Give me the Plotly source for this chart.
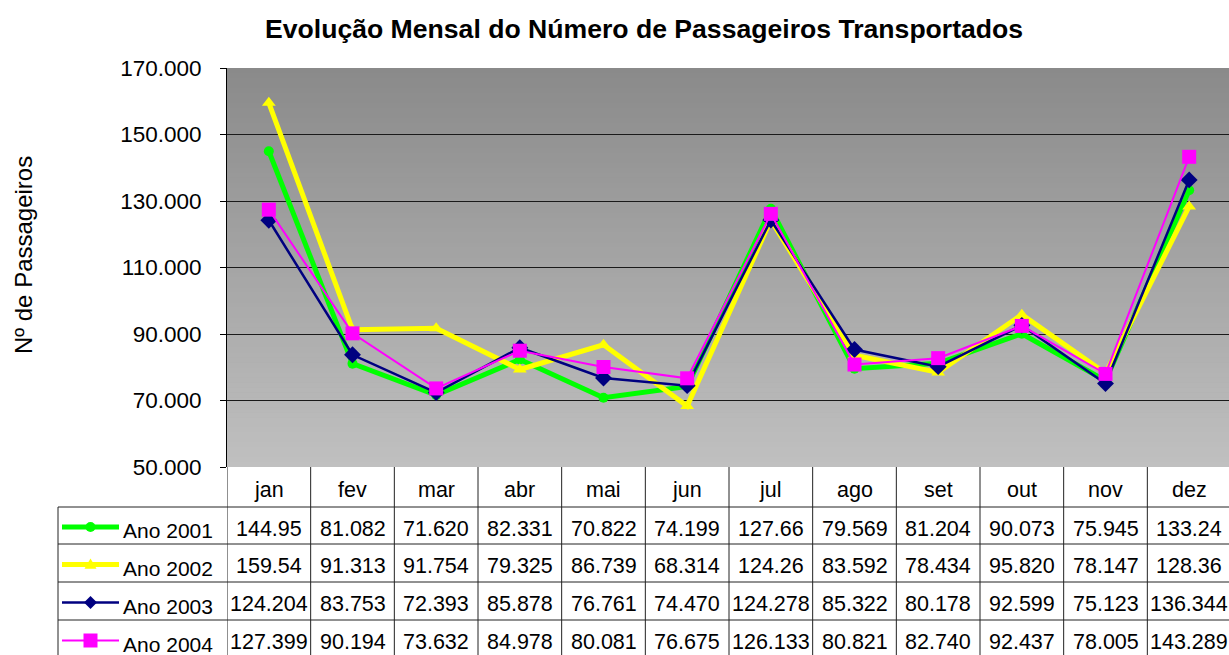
import plotly.graph_objects as go

# ---------------- data ----------------
months = ["jan", "fev", "mar", "abr", "mai", "jun", "jul", "ago", "set", "out", "nov", "dez"]
series_names = ["Ano 2001", "Ano 2002", "Ano 2003", "Ano 2004"]

ano2001 = [144950, 81082, 71620, 82331, 70822, 74199, 127660, 79569, 81204, 90073, 75945, 133240]
ano2002 = [159540, 91313, 91754, 79325, 86739, 68314, 124260, 83592, 78434, 95820, 78147, 128360]
ano2003 = [124204, 83753, 72393, 85878, 76761, 74470, 124278, 85322, 80178, 92599, 75123, 136344]
ano2004 = [127399, 90194, 73632, 84978, 80081, 76675, 126133, 80821, 82740, 92437, 78005, 143289]

# text as displayed in the data table (Excel truncates some cells)
txt2001 = ["144.95", "81.082", "71.620", "82.331", "70.822", "74.199", "127.66", "79.569", "81.204", "90.073", "75.945", "133.24"]
txt2002 = ["159.54", "91.313", "91.754", "79.325", "86.739", "68.314", "124.26", "83.592", "78.434", "95.820", "78.147", "128.36"]
txt2003 = ["124.204", "83.753", "72.393", "85.878", "76.761", "74.470", "124.278", "85.322", "80.178", "92.599", "75.123", "136.344"]
txt2004 = ["127.399", "90.194", "73.632", "84.978", "80.081", "76.675", "126.133", "80.821", "82.740", "92.437", "78.005", "143.289"]

y_ticks = [50000, 70000, 90000, 110000, 130000, 150000, 170000]

title_text = "Evolução Mensal do Número de Passageiros Transportados"
ytitle_text = "Nº de Passageiros"

# ---------------- styling ----------------
W, H = 1229, 655
FONT = "Liberation Sans, Arial, sans-serif"
PL, PR, PT, PB = 227, 1231, 68, 467    # plot area in pixels
ROW_LINES = [507, 544, 582, 620, 658]  # table horizontal lines
LEG_LEFT = 58

styles = [
    dict(color="#00FF00", width=5, symbol="circle", size=10),
    dict(color="#FFFF00", width=5, symbol="triangle-up", size=12),
    dict(color="#000080", width=2.5, symbol="diamond", size=13),
    dict(color="#FF00FF", width=2, symbol="square", size=14),
]


def px(x):
    return x / W


def py(y):
    return 1 - y / H


fig = go.Figure()

all_series = [ano2001, ano2002, ano2003, ano2004]
all_txt = [txt2001, txt2002, txt2003, txt2004]

for name, vals, st in zip(series_names, all_series, styles):
    fig.add_trace(go.Scatter(
        x=months, y=vals, name=name, mode="lines+markers",
        line=dict(color=st["color"], width=st["width"]),
        marker=dict(symbol=st["symbol"], size=st["size"], color=st["color"],
                    line=dict(width=0)),
        showlegend=False, cliponaxis=False,
    ))

shapes = []
# gradient background of plot area
N = 80
c0, c1 = (0x8A, 0x8A, 0x8A), (0xC0, 0xC0, 0xC0)
for k in range(N):
    t = (k + 0.5) / N
    c = tuple(int(round(c0[j] + (c1[j] - c0[j]) * t)) for j in range(3))
    y0 = PT + (PB - PT) * k / N
    y1 = PT + (PB - PT) * (k + 1) / N + 0.6
    shapes.append(dict(type="rect", xref="paper", yref="paper",
                       x0=px(PL), x1=1, y0=py(min(y1, PB)), y1=py(y0),
                       fillcolor="rgb(%d,%d,%d)" % c, line=dict(width=0),
                       layer="below"))

# table lines
LC = "#222222"
for k in range(len(months) + 1):
    shapes.append(dict(type="line", xref="x", yref="paper",
                       x0=k - 0.5, x1=k - 0.5, y0=py(PB), y1=py(H + 5),
                       line=dict(color=LC, width=1)))
for r in ROW_LINES[:-1]:
    shapes.append(dict(type="line", xref="paper", yref="paper",
                       x0=px(LEG_LEFT), x1=1, y0=py(r), y1=py(r),
                       line=dict(color=LC, width=1)))
shapes.append(dict(type="line", xref="paper", yref="paper",
                   x0=px(LEG_LEFT), x1=px(LEG_LEFT), y0=py(ROW_LINES[0]), y1=py(H + 5),
                   line=dict(color=LC, width=1)))

# legend keys inside the table
KX0, KX1, KXC = 62, 119, 90.5
for i, st in enumerate(styles):
    yc = (ROW_LINES[i] + ROW_LINES[i + 1]) / 2 + 1.5
    col = st["color"]
    shapes.append(dict(type="line", xref="paper", yref="paper",
                       x0=px(KX0), x1=px(KX1), y0=py(yc), y1=py(yc),
                       line=dict(color=col, width=st["width"])))
    r = st["size"] / 2
    if st["symbol"] == "circle":
        shapes.append(dict(type="circle", xref="paper", yref="paper",
                           x0=px(KXC - r), x1=px(KXC + r), y0=py(yc + r), y1=py(yc - r),
                           fillcolor=col, line=dict(width=0)))
    elif st["symbol"] == "square":
        shapes.append(dict(type="rect", xref="paper", yref="paper",
                           x0=px(KXC - r), x1=px(KXC + r), y0=py(yc + r), y1=py(yc - r),
                           fillcolor=col, line=dict(width=0)))
    elif st["symbol"] == "diamond":
        pts = [(KXC, yc - r), (KXC + r, yc), (KXC, yc + r), (KXC - r, yc)]
        path = "M " + " L ".join("%f,%f" % (px(a), py(b)) for a, b in pts) + " Z"
        shapes.append(dict(type="path", xref="paper", yref="paper", path=path,
                           fillcolor=col, line=dict(width=0)))
    else:
        pts = [(KXC, yc - r), (KXC + r, yc + r * 0.7), (KXC - r, yc + r * 0.7)]
        path = "M " + " L ".join("%f,%f" % (px(a), py(b)) for a, b in pts) + " Z"
        shapes.append(dict(type="path", xref="paper", yref="paper", path=path,
                           fillcolor=col, line=dict(width=0)))

annotations = []
TF = dict(family=FONT, size=21.5, color="black")
for m in months:
    annotations.append(dict(x=m, y=py(490), xref="x", yref="paper", text=m,
                            showarrow=False, font=TF, xanchor="center", yanchor="middle"))
for i, (name, txts) in enumerate(zip(series_names, all_txt)):
    yc = (ROW_LINES[i] + ROW_LINES[i + 1]) / 2
    annotations.append(dict(x=px(121), y=py(yc + 5), xref="paper", yref="paper",
                            text=name, showarrow=False, font=dict(family=FONT, size=21, color="black"),
                            xanchor="left", yanchor="middle"))
    for m, t in zip(months, txts):
        annotations.append(dict(x=m, y=py(yc + 3), xref="x", yref="paper", text=t,
                                showarrow=False, font=TF,
                                xanchor="center", yanchor="middle"))

annotations.append(dict(x=px(644), y=py(29), xref="paper", yref="paper",
                        text="<b>" + title_text + "</b>", showarrow=False,
                        font=dict(family=FONT, size=26.6, color="black"),
                        xanchor="center", yanchor="middle"))
annotations.append(dict(x=px(23), y=py(255), xref="paper", yref="paper",
                        text=ytitle_text, showarrow=False, textangle=-90,
                        font=dict(family=FONT, size=24, color="black"),
                        xanchor="center", yanchor="middle"))

fig.update_layout(
    width=W, height=H,
    margin=dict(l=0, r=0, t=0, b=0, pad=0, autoexpand=False),
    paper_bgcolor="white",
    plot_bgcolor="#A5A5A5",
    separators=",.",
    font=dict(family=FONT, size=21, color="black"),
    xaxis=dict(domain=[px(PL), 1], type="category", categoryorder="array",
               categoryarray=months, range=[-0.5, 11.5 - (PR - W) / ((PR - PL) / 12)],
               showticklabels=False, showgrid=False, zeroline=False, automargin=False,
               showline=False, ticks="", fixedrange=True),
    yaxis=dict(domain=[py(PB), py(PT)], range=[50000, 170000], tickvals=y_ticks,
               tickformat=",d", showgrid=True, gridcolor="#1a1a1a", gridwidth=1,
               zeroline=False, showline=True, linecolor="black", linewidth=1,
               ticks="outside", ticklen=6, tickcolor="black", automargin=False,
               ticklabelstandoff=14,
               tickfont=dict(family=FONT, size=22.5, color="black"), fixedrange=True),
    shapes=shapes,
    annotations=annotations,
)

fig.write_html("out.html", config={"displayModeBar": False},
               post_script="document.body.style.margin='0';")
